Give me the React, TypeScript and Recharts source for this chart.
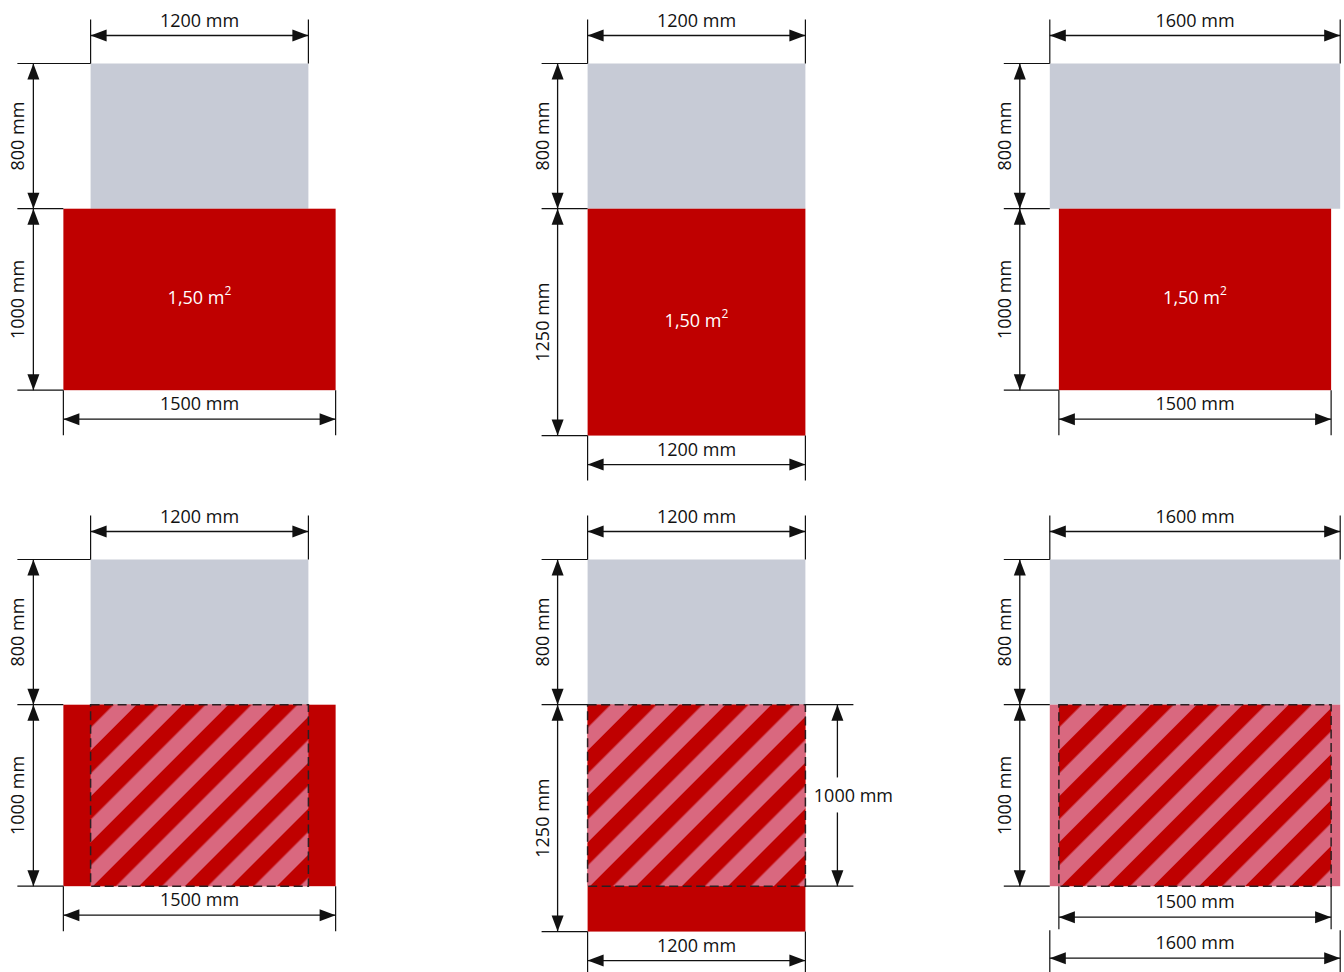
import { ComposedChart, XAxis, YAxis, ReferenceArea, ReferenceLine } from 'recharts';

// page size and drawing scale (px per mm of the real pallet/area)
const W = 1344;
const H = 972;
const PX_PER_MM = 0.1815;
const W_MM = W / PX_PER_MM;
const H_MM = H / PX_PER_MM;
const mm = (px: number) => px / PX_PER_MM;

// six variants (all in mm)
const panelIds = ['a', 'b', 'c', 'd', 'e', 'f'];
const upperWidths = [1200, 1200, 1600, 1200, 1200, 1600];
const upperDepths = [800, 800, 800, 800, 800, 800];
const lowerWidths = [1500, 1200, 1500, 1500, 1200, 1600];
const lowerDepths = [1000, 1250, 1000, 1000, 1250, 1000];
const hatchWidths = [0, 0, 0, 1200, 1200, 1500];
const hatchDepths = [0, 0, 0, 1000, 1000, 1000];
const areaLabels = ['1,50', '1,50', '1,50', '', '', ''];
const lowerTones = ['red', 'red', 'red', 'red', 'red', 'pink'];
const hatchWidthDim = [false, false, false, false, false, true];
const hatchDepthDim = [false, false, false, false, true, false];

// layout (px)
const COL_CX = [199.5, 696.5, 1195];
const ROW_TOP = [63.5, 559.5];

const RED = '#BF0000';
const PINK = '#D9687F';
const GRAY = '#C7CBD6';
const INK = '#111111';
const FONT = '"Open Sans", sans-serif';
const STRIPE = 32.5;
const ARROW_LEN = 16;
const ARROW_HALF = 6;

const head = (tx: number, ty: number, sx: number, sy: number) => {
  const bx = tx - sx * ARROW_LEN;
  const by = ty - sy * ARROW_LEN;
  return `${tx},${ty} ${bx - sy * ARROW_HALF},${by + sx * ARROW_HALF} ${bx + sy * ARROW_HALF},${by - sx * ARROW_HALF}`;
};

const DimShape = (props: any) => {
  const { x1, y1, x2, y2, text, side } = props;
  const len = Math.hypot(x2 - x1, y2 - y1) || 1;
  const ux = (x2 - x1) / len;
  const uy = (y2 - y1) / len;
  const mx = (x1 + x2) / 2;
  const my = (y1 + y2) / 2;
  let label = null;
  let body = <line x1={x1} y1={y1} x2={x2} y2={y2} stroke={INK} strokeWidth={1.3} />;
  if (side === 'above') {
    label = (
      <text x={mx} y={y1 - 9} textAnchor="middle" fontFamily={FONT} fontSize={18} fill={INK}>
        {text}
      </text>
    );
  } else if (side === 'left') {
    label = (
      <text transform={`translate(${x1 - 9},${my}) rotate(-90)`} textAnchor="middle" fontFamily={FONT} fontSize={18} fill={INK}>
        {text}
      </text>
    );
  } else if (side === 'gap') {
    body = (
      <g>
        <line x1={x1} y1={y1} x2={x1} y2={my - 18} stroke={INK} strokeWidth={1.3} />
        <line x1={x1} y1={my + 17} x2={x2} y2={y2} stroke={INK} strokeWidth={1.3} />
      </g>
    );
    label = (
      <text x={x1 + 16} y={my} textAnchor="middle" dominantBaseline="central" fontFamily={FONT} fontSize={18} fill={INK}>
        {text}
      </text>
    );
  }
  return (
    <g>
      {body}
      <polygon points={head(x1, y1, -ux, -uy)} fill={INK} />
      <polygon points={head(x2, y2, ux, uy)} fill={INK} />
      {label}
    </g>
  );
};

const HatchRect = (props: any) => {
  const { x, y, width, height, pid } = props;
  return (
    <g>
      <defs>
        <pattern
          id={pid}
          patternUnits="userSpaceOnUse"
          width={STRIPE}
          height={STRIPE}
          patternTransform={`translate(${x} ${y}) rotate(45)`}
        >
          <rect x={0} y={0} width={STRIPE} height={STRIPE} fill={PINK} />
          <rect x={0} y={0} width={STRIPE / 2} height={STRIPE} fill={RED} />
        </pattern>
      </defs>
      <rect x={x} y={y} width={width} height={height} fill={`url(#${pid})`} />
      <rect x={x} y={y} width={width} height={height} fill="none" stroke="#2b1f22" strokeWidth={1.5} strokeDasharray="9 4.5" />
    </g>
  );
};

const AreaLabelRect = (props: any) => {
  const { x, y, width, height, fill, value } = props;
  return (
    <g>
      <rect x={x} y={y} width={width} height={height} fill={fill} />
      {value ? (
        <text x={x + width / 2} y={y + height / 2 - 2} textAnchor="middle" dominantBaseline="central" fontFamily={FONT} fontSize={18} fill="#ffffff">
          {value} m<tspan dy={-7} fontSize={12}>2</tspan>
        </text>
      ) : null}
    </g>
  );
};

export default function App() {
  const areas: any[] = [];
  const lines: any[] = [];

  const ext = (key: string, ax: number, ay: number, bx: number, by: number) => {
    lines.push(
      <ReferenceLine
        key={key}
        segment={[{ x: ax, y: ay }, { x: bx, y: by }]}
        stroke={INK}
        strokeWidth={1.2}
        ifOverflow="visible"
      />
    );
  };
  const dim = (key: string, ax: number, ay: number, bx: number, by: number, text: string, side: string) => {
    lines.push(
      <ReferenceLine
        key={key}
        segment={[{ x: ax, y: ay }, { x: bx, y: by }]}
        ifOverflow="visible"
        shape={(p: any) => <DimShape {...p} text={text} side={side} />}
      />
    );
  };

  panelIds.forEach((pid, i) => {
    const cx = mm(COL_CX[i % 3]);
    const top = mm(ROW_TOP[Math.floor(i / 3)]);
    const uw = upperWidths[i];
    const ud = upperDepths[i];
    const lw = lowerWidths[i];
    const ld = lowerDepths[i];
    const hw = hatchWidths[i];
    const hd = hatchDepths[i];
    const gL = cx - uw / 2;
    const gR = cx + uw / 2;
    const gB = top + ud;
    const bL = cx - lw / 2;
    const bR = cx + lw / 2;
    const bB = gB + ld;
    const hL = cx - hw / 2;
    const hR = cx + hw / 2;
    const hB = gB + hd;
    const lowerFill = lowerTones[i] === 'pink' ? PINK : RED;

    areas.push(
      <ReferenceArea key={`${pid}-up`} x1={gL} x2={gR} y1={top} y2={gB} fill={GRAY} fillOpacity={1} stroke="none" ifOverflow="visible" />
    );
    areas.push(
      <ReferenceArea
        key={`${pid}-low`}
        x1={bL}
        x2={bR}
        y1={gB}
        y2={bB}
        ifOverflow="visible"
        shape={(p: any) => <AreaLabelRect {...p} fill={lowerFill} value={areaLabels[i]} />}
      />
    );
    if (hw > 0) {
      areas.push(
        <ReferenceArea
          key={`${pid}-hatch`}
          x1={hL}
          x2={hR}
          y1={gB}
          y2={hB}
          ifOverflow="visible"
          shape={(p: any) => <HatchRect {...p} pid={`hatch-${pid}`} />}
        />
      );
    }

    // top width dimension
    const topY = top - mm(28);
    ext(`${pid}-te1`, gL, top, gL, topY - mm(16));
    ext(`${pid}-te2`, gR, top, gR, topY - mm(16));
    dim(`${pid}-td`, gL, topY, gR, topY, `${uw} mm`, 'above');

    // left depth dimensions
    const leftX = Math.min(gL, bL) - mm(30);
    const extL = leftX - mm(16);
    ext(`${pid}-le1`, extL, top, gL, top);
    ext(`${pid}-le2`, extL, gB, Math.min(gL, bL), gB);
    ext(`${pid}-le3`, extL, bB, bL, bB);
    dim(`${pid}-ld1`, leftX, top, leftX, gB, `${ud} mm`, 'left');
    dim(`${pid}-ld2`, leftX, gB, leftX, bB, `${ld} mm`, 'left');

    // bottom width dimensions
    if (hatchWidthDim[i]) {
      const y1 = hB + mm(31);
      ext(`${pid}-he1`, hL, hB, hL, y1 + mm(12));
      ext(`${pid}-he2`, hR, hB, hR, y1 + mm(12));
      dim(`${pid}-hd`, hL, y1, hR, y1, `${hw} mm`, 'above');
      const y2 = y1 + mm(41);
      ext(`${pid}-be1`, bL, y1 + mm(13), bL, y2 + mm(16));
      ext(`${pid}-be2`, bR, y1 + mm(13), bR, y2 + mm(16));
      dim(`${pid}-bd`, bL, y2, bR, y2, `${lw} mm`, 'above');
    } else {
      const y = bB + mm(29);
      ext(`${pid}-be1`, bL, bB, bL, y + mm(16));
      ext(`${pid}-be2`, bR, bB, bR, y + mm(16));
      dim(`${pid}-bd`, bL, y, bR, y, `${lw} mm`, 'above');
    }

    // right depth dimension of the hatched zone
    if (hatchDepthDim[i]) {
      const rx = Math.max(gR, bR) + mm(32);
      ext(`${pid}-re1`, hR, gB, rx + mm(16), gB);
      ext(`${pid}-re2`, hR, hB, rx + mm(16), hB);
      dim(`${pid}-rd`, rx, gB, rx, hB, `${hd} mm`, 'gap');
    }
  });

  return (
    <div style={{ position: 'absolute', left: 0, top: 0, width: W, height: H, background: '#ffffff' }}>
      <ComposedChart width={W} height={H} data={[]} margin={{ top: 0, right: 0, bottom: 0, left: 0 }}>
        <XAxis type="number" dataKey="x" domain={[0, W_MM]} hide allowDataOverflow />
        <YAxis type="number" dataKey="y" domain={[0, H_MM]} reversed hide allowDataOverflow />
        {areas}
        {lines}
      </ComposedChart>
    </div>
  );
}
